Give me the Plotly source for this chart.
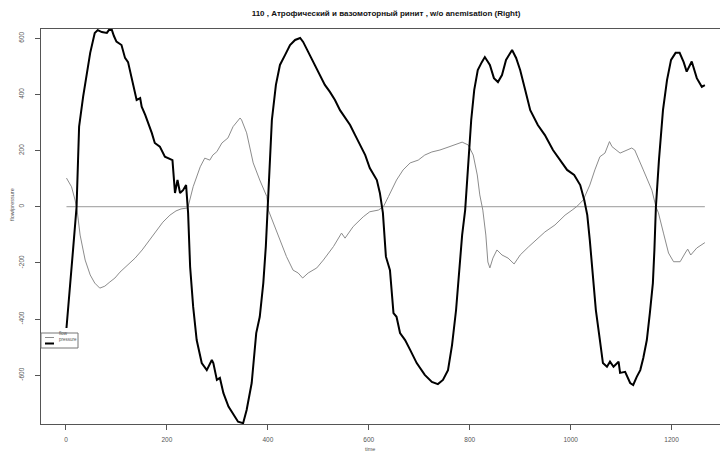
import plotly.graph_objects as go

# Rhinomanometry recording: flow and pressure over time
title_text = "110 , Атрофический и вазомоторный ринит , w/o anemisation (Right)"

pressure_t = [1, 8, 14, 21, 26, 34, 48, 57, 63, 71, 81, 85, 91, 95, 100, 110, 117, 123, 130, 135,
              140, 147, 150, 157, 163, 170, 176, 186, 196, 203, 211, 216, 221, 226, 232, 238, 240, 242, 246, 252,
              259, 269, 279, 289, 292, 299, 305, 312, 322, 332, 341, 351, 358, 368, 377, 384, 391, 396, 400, 402,
              408, 416, 424, 434, 444, 454, 464, 470, 478, 484, 493, 503, 513, 523, 533, 543, 553, 563, 573, 583,
              593, 602, 616, 622, 626, 628, 634, 642, 649, 655, 662, 672, 682, 695, 711, 725, 737, 747, 757, 765,
              773, 779, 785, 791, 797, 803, 809, 816, 824, 830, 840, 848, 856, 864, 872, 884, 892, 900, 910, 920,
              935, 949, 965, 979, 993, 1007, 1019, 1027, 1033, 1038, 1044, 1050, 1058, 1064, 1072, 1078, 1085, 1095, 1098, 1108,
              1118, 1124, 1131, 1138, 1144, 1151, 1157, 1163, 1166, 1169, 1175, 1183, 1191, 1199, 1208, 1216, 1224, 1230, 1240, 1250,
              1260, 1266]
pressure = [-432, -297, -154, 0, 285, 392, 548, 619, 629, 622, 619, 629, 629, 608, 588, 576, 530, 515, 463, 416,
            380, 387, 356, 327, 298, 263, 227, 214, 178, 173, 166, 49, 95, 49, 59, 77, 24, -22, -214, -356,
            -475, -557, -582, -546, -557, -617, -610, -664, -712, -742, -766, -771, -724, -628, -450, -392, -272, -142, 0, 95,
            309, 434, 505, 540, 576, 594, 601, 587, 558, 540, 505, 469, 434, 409, 380, 344, 316, 291, 255, 220,
            184, 138, 95, 49, 0, -22, -178, -226, -379, -392, -450, -475, -510, -557, -599, -624, -632, -617, -582, -493,
            -368, -226, -101, -12, 131, 309, 416, 487, 515, 533, 505, 458, 444, 469, 523, 558, 530, 487, 416, 344,
            291, 255, 202, 166, 131, 113, 77, 24, -30, -119, -261, -368, -475, -557, -570, -552, -570, -552, -592, -588,
            -628, -635, -606, -582, -539, -475, -379, -272, -154, 0, 166, 344, 451, 523, 548, 548, 515, 481, 517, 458,
            427, 433]

flow_t = [1, 11, 18, 22, 28, 38, 48, 57, 67, 77, 87, 97, 107, 123, 137, 151, 166, 180, 192, 206,
          218, 228, 239, 242, 252, 266, 275, 285, 291, 299, 309, 321, 331, 345, 348, 358, 371, 384, 398, 401,
          411, 424, 437, 450, 460, 469, 480, 497, 510, 530, 546, 553, 569, 589, 602, 619, 629, 639, 655, 668,
          682, 698, 711, 725, 741, 757, 771, 785, 797, 807, 815, 820, 826, 832, 836, 840, 846, 854, 864, 876,
          888, 900, 916, 931, 949, 969, 989, 1003, 1013, 1025, 1038, 1048, 1058, 1068, 1077, 1082, 1098, 1121, 1127, 1144,
          1161, 1169, 1174, 1184, 1194, 1204, 1217, 1227, 1232, 1238, 1250, 1266]
flow = [102, 71, 24, -12, -101, -190, -243, -272, -290, -283, -268, -254, -233, -208, -183, -154, -119, -83, -55, -30,
        -15, -8, -5, 0, 71, 142, 173, 166, 184, 196, 227, 245, 285, 316, 309, 263, 156, 95, 36, -12,
        -58, -119, -178, -226, -236, -254, -236, -218, -190, -142, -94, -112, -71, -36, -18, -12, 0, 36, 95, 131,
        156, 166, 184, 195, 202, 212, 220, 230, 220, 184, 113, 42, -12, -101, -197, -218, -183, -154, -172, -183,
        -204, -172, -144, -119, -90, -65, -30, -12, 2, 24, 77, 131, 178, 191, 232, 214, 191, 209, 202, 131,
        59, 0, -22, -94, -165, -196, -196, -165, -151, -172, -147, -128]

baseline_t = [1, 1266]
baseline = [0, 0]

x_ticks = [0, 200, 400, 600, 800, 1000, 1200]
y_ticks = [-600, -400, -200, 0, 200, 400, 600]

FONT = "Liberation Sans, Arial, sans-serif"

fig = go.Figure()
fig.add_trace(go.Scatter(x=baseline_t, y=baseline, mode="lines",
                         line=dict(color="#9a9a9a", width=1), showlegend=False, hoverinfo="skip"))
fig.add_trace(go.Scatter(x=flow_t, y=flow, mode="lines", name="flow",
                         line=dict(color="#8c8c8c", width=1), showlegend=False))
fig.add_trace(go.Scatter(x=pressure_t, y=pressure, mode="lines", name="pressure",
                         line=dict(color="#000000", width=2), showlegend=False))

fig.update_layout(
    width=720, height=453,
    margin=dict(l=41, r=0, t=29, b=29),
    paper_bgcolor="white", plot_bgcolor="white",
    font=dict(family=FONT, size=6.5, color="#444"),
    title=dict(text="<b>" + title_text + "</b>", x=386 / 720, xref="container", xanchor="center",
               y=1 - 13 / 453, yref="container", yanchor="middle",
               font=dict(family=FONT, size=8, color="#111")),
    xaxis=dict(range=[-49.5, 1296], tickvals=x_ticks, ticktext=[str(v) for v in x_ticks],
               showgrid=False, zeroline=False, showline=True, linecolor="#555", linewidth=1,
               mirror=True, ticks="outside", ticklen=5, tickcolor="#555", ticklabelstandoff=4,
               tickfont=dict(size=6.5, color="#555")),
    yaxis=dict(range=[-774, 633], tickvals=y_ticks, ticktext=[str(v) for v in y_ticks],
               showgrid=False, zeroline=False, showline=True, linecolor="#555", linewidth=1,
               ticks="outside", ticklen=5, tickcolor="#555", tickangle=-90, ticklabelstandoff=8,
               tickfont=dict(size=6.5, color="#555")),
)

# axis titles
fig.add_annotation(text="time", xref="paper", yref="paper", x=(370 - 41) / 679, y=-25 / 395,
                   showarrow=False, font=dict(size=5.5, color="#555"), yanchor="middle")
fig.add_annotation(text="flow/pressure", xref="paper", yref="paper", x=-29 / 679, y=(424 - 205) / 395,
                   textangle=-90, showarrow=False, font=dict(size=5.5, color="#555"), xanchor="center")

# legend box drawn in the lower-left corner of the plot
def px(xp):
    return (xp - 41) / 679

def py(yp):
    return (424 - yp) / 395

fig.add_shape(type="rect", xref="paper", yref="paper", x0=px(41), x1=px(78), y0=py(348), y1=py(333),
              line=dict(color="#777", width=1), fillcolor="white")
fig.add_shape(type="line", xref="paper", yref="paper", x0=px(45), x1=px(54), y0=py(337.5), y1=py(337.5),
              line=dict(color="#8c8c8c", width=1))
fig.add_shape(type="line", xref="paper", yref="paper", x0=px(45), x1=px(54), y0=py(343.5), y1=py(343.5),
              line=dict(color="#000", width=2))
fig.add_annotation(text="flow", xref="paper", yref="paper", x=px(57), y=py(337.5), xanchor="left",
                   showarrow=False, font=dict(size=4.5, color="#555"))
fig.add_annotation(text="pressure", xref="paper", yref="paper", x=px(57), y=py(343.5), xanchor="left",
                   showarrow=False, font=dict(size=4.5, color="#555"))

fig.write_html("out.html")
